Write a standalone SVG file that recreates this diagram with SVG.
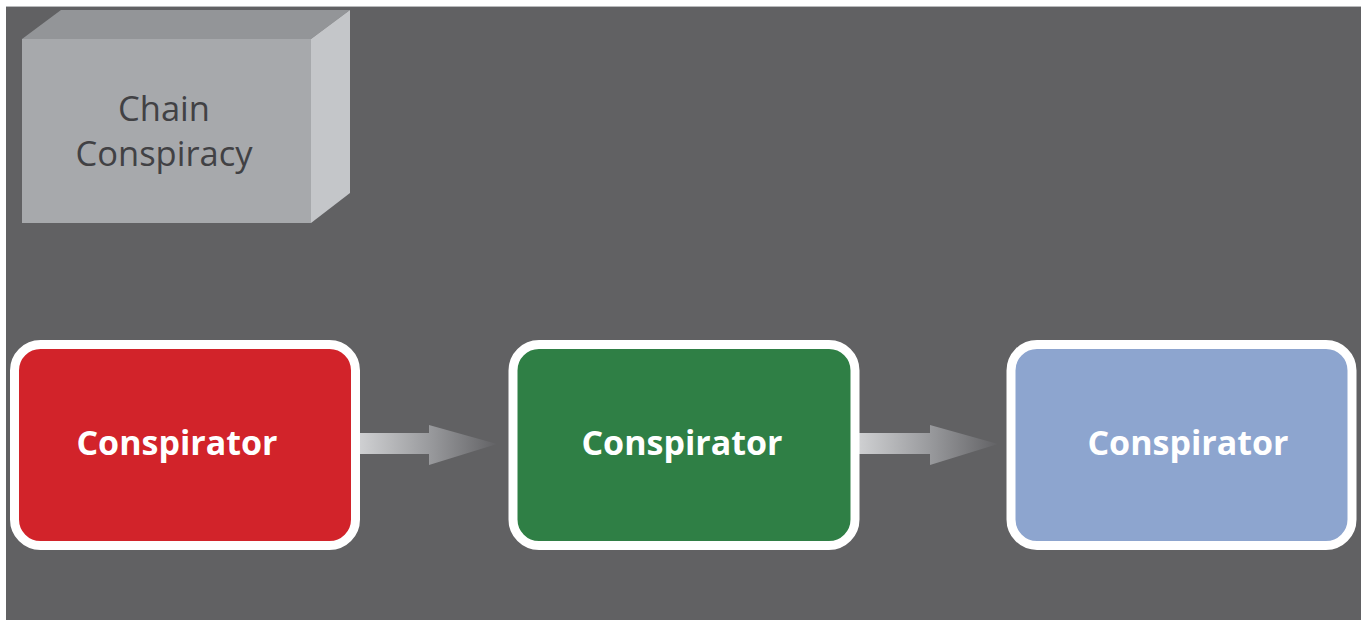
<svg xmlns="http://www.w3.org/2000/svg" width="1361" height="620" viewBox="0 0 1361 620">
<defs>
<style>
.node-box{stroke:#ffffff;stroke-width:9}
.lbl{font-family:"Open Sans","Noto Sans","Liberation Sans",sans-serif;font-weight:bold;font-size:34px;fill:#ffffff;text-anchor:middle}
.title{font-family:"Open Sans","Noto Sans","Liberation Sans",sans-serif;font-size:34.5px;fill:#414144;text-anchor:middle}
</style>
<linearGradient id="arrowGrad" x1="0" y1="0" x2="1" y2="0">
<stop offset="0" stop-color="#cfd0d2"/>
<stop offset="0.5" stop-color="#9a9b9e"/>
<stop offset="1" stop-color="#626265"/>
</linearGradient>
</defs>
<rect x="0" y="0" width="1361" height="620" fill="#ffffff"/>
<rect x="6" y="6" width="1355" height="1" fill="#b9babc"/>
<rect x="6" y="7" width="1355" height="613" fill="#616163"/>

<g id="chain-conspiracy">
<polygon points="22,39 61,10 350,10 311,39" fill="#939598"/>
<polygon points="311,39 350,10 350,193 311,223" fill="#c4c6c9"/>
<rect x="22" y="39" width="289" height="184" fill="#a7a9ac"/>
<text class="title" x="164" y="121">Chain</text>
<text class="title" x="164" y="166">Conspiracy</text>
</g>

<g id="connectors">
<g id="arrow-1">
<polygon points="360,433 429,433 429,425 497,444 429,465 429,454 360,454" fill="url(#arrowGrad)"/>
</g>
<g id="arrow-2">
<polygon points="859,433 930,433 930,425 998,444 930,465 930,454 859,454" fill="url(#arrowGrad)"/>
</g>
</g>

<g id="conspirator-1">
<rect class="node-box" x="14.5" y="344.5" width="341" height="201" rx="26" fill="#d2232a"/>
<text class="lbl" x="177" y="455">Conspirator</text>
</g>
<g id="conspirator-2">
<rect class="node-box" x="513" y="344.5" width="342" height="201" rx="26" fill="#2f7f45"/>
<text class="lbl" x="682" y="455">Conspirator</text>
</g>
<g id="conspirator-3">
<rect class="node-box" x="1011" y="344.5" width="341" height="201" rx="26" fill="#8da5cf"/>
<text class="lbl" x="1188" y="455">Conspirator</text>
</g>
</svg>
